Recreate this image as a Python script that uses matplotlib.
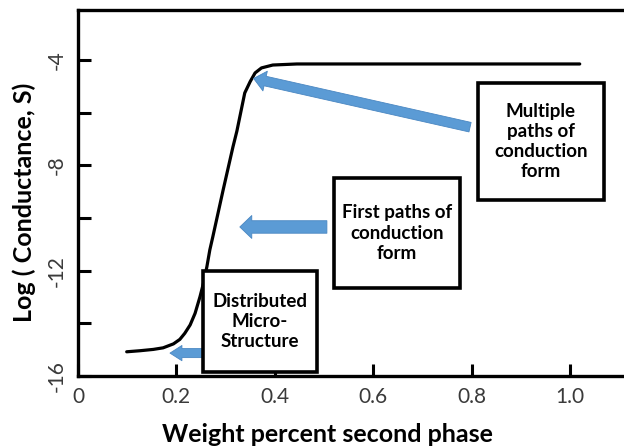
import matplotlib
matplotlib.use("Agg")
import matplotlib.pyplot as plt
from matplotlib.patches import Rectangle, FancyArrowPatch

plt.rcParams['font.family'] = ['Lato', 'DejaVu Sans']

# Percolation curve: log conductance vs. weight fraction of second phase
weight = [0.099, 0.126, 0.153, 0.173, 0.194, 0.207, 0.217, 0.228, 0.238, 0.248,
          0.255, 0.262, 0.268, 0.274, 0.295, 0.315, 0.323, 0.339, 0.350, 0.360,
          0.373, 0.396, 0.445, 1.020]
log_cond = [-15.08, -15.04, -14.99, -14.93, -14.78, -14.61, -14.38, -14.06, -13.62, -12.99,
            -12.48, -11.85, -11.21, -10.72, -8.94, -7.30, -6.70, -5.25, -4.82, -4.49,
            -4.30, -4.19, -4.15, -4.15]

x_ticks = [0.0, 0.2, 0.4, 0.6, 0.8, 1.0]
x_tick_labels = ['0', '0.2', '0.4', '0.6', '0.8', '1.0']
y_ticks = [-16, -14, -12, -10, -8, -6, -4]
y_tick_labels = ['-16', '', '-12', '', '-8', '', '-4']

# Annotation boxes: (x0, x1, y_bottom, y_top, text)
box_multiple = (0.813, 1.069, -9.32, -4.87, 'Multiple\npaths of\nconduction\nform')
box_first = (0.520, 0.776, -12.66, -8.48, 'First paths of\nconduction\nform')
box_distributed = (0.254, 0.486, -15.85, -12.01, 'Distributed\nMicro-\nStructure')

# Arrows: (tail, tip)
arrow_multiple = ((0.797, -6.55), (0.357, -4.70))
arrow_first = ((0.506, -10.34), (0.329, -10.34))
arrow_distributed = ((0.254, -15.13), (0.187, -15.13))

fig = plt.figure(figsize=(6.24, 4.48), dpi=100)
ax = fig.add_axes([0.125, 0.1607, 0.875, 0.8170])

ax.plot(weight, log_cond, color='black', lw=2.3, solid_capstyle='round',
        solid_joinstyle='round', zorder=2)

ax.set_xlim(0, 1.11)
ax.set_ylim(-16, -2.10)

ax.set_xticks(x_ticks)
ax.set_xticklabels(x_tick_labels)
ax.set_yticks(y_ticks)
ax.set_yticklabels(y_tick_labels, rotation=90, va='center')

ax.tick_params(axis='both', direction='in', length=9, width=2.2, color='black',
               labelsize=15, labelcolor='#3a3a3a')
ax.tick_params(axis='x', pad=8)
ax.tick_params(axis='y', pad=8)

for side in ('left', 'bottom', 'top'):
    ax.spines[side].set_linewidth(2.4)
ax.spines['right'].set_visible(False)

ax.set_xlabel('Weight percent second phase', fontsize=18, fontweight='bold')
ax.set_ylabel('Log ( Conductance, S)', fontsize=18, fontweight='bold')
ax.xaxis.set_label_coords(0.456, -0.128)
ax.yaxis.set_label_coords(-0.077, 0.475)

blue = '#5b9bd5'
blue_edge = '#4a87c2'


def draw_arrow(tail, tip, tail_w, head_w, head_l):
    style = f'simple,head_width={head_w},head_length={head_l},tail_width={tail_w}'
    ax.add_patch(FancyArrowPatch(tail, tip, arrowstyle=style, mutation_scale=1,
                                 shrinkA=0, shrinkB=0, facecolor=blue,
                                 edgecolor=blue_edge, lw=0.6, zorder=3))


draw_arrow(*arrow_multiple, tail_w=7.0, head_w=14.5, head_l=8.5)
draw_arrow(*arrow_first, tail_w=9.0, head_w=16.5, head_l=8.6)
draw_arrow(*arrow_distributed, tail_w=6.5, head_w=11.0, head_l=8.6)


def draw_box(x0, x1, y0, y1, text):
    ax.add_patch(Rectangle((x0, y0), x1 - x0, y1 - y0, facecolor='white',
                           edgecolor='black', lw=2.6, zorder=4))
    ax.text((x0 + x1) / 2, (y0 + y1) / 2, text, ha='center', va='center',
            fontsize=13.5, fontweight='bold', linespacing=1.22, zorder=5)


draw_box(*box_multiple)
draw_box(*box_first)
draw_box(*box_distributed)

fig.savefig('out.png', dpi=100)
